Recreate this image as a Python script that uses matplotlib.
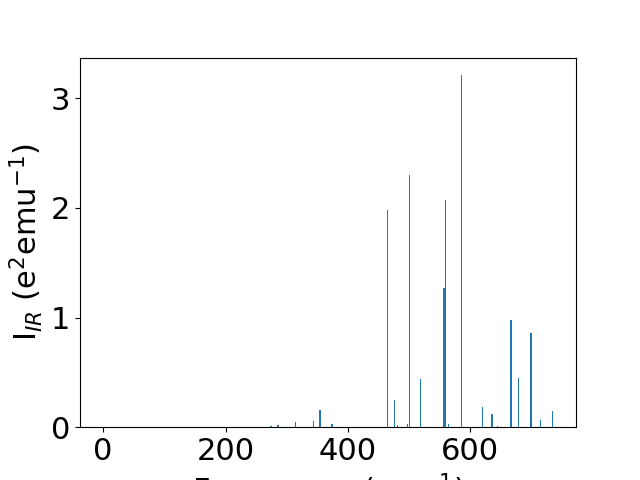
import numpy as np
import matplotlib.pyplot as plt

# Frekvenser (cm^-1) og IR-intensiteter lest av figuren
freq = [0, 274.3, 285.8, 314, 343.3, 354.4, 374, 464.5, 476, 481, 497, 500.3,
        519, 557, 560, 564, 586, 620, 635.5, 645, 666.6, 679, 699.25, 715, 735]
intensity = [0.0, 0.01, 0.02, 0.045, 0.055, 0.155, 0.025, 1.98, 0.245, 0.02,
             0.025, 2.30, 0.44, 1.27, 2.07, 0.025, 3.21, 0.18, 0.12, 0.01,
             0.98, 0.45, 0.86, 0.07, 0.145]

plt.rcParams['font.size'] = 22

plt.bar(freq, intensity, width=2.0)
plt.xlabel(r"Frequency (cm$^{-1}$)")
plt.ylabel(r"I$_{IR}$ (e$^2$emu$^{-1}$)")
plt.savefig("out.png", dpi=100)
